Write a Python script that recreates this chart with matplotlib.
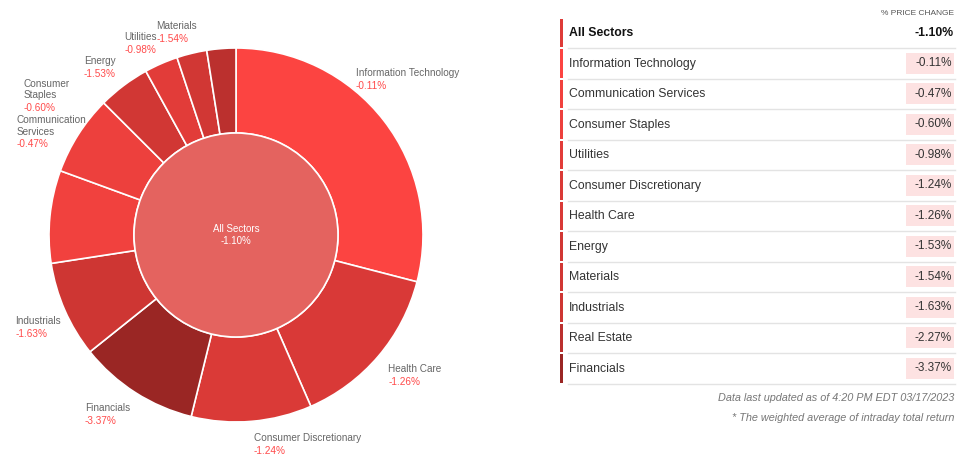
import numpy as np
import matplotlib
matplotlib.use("Agg")
import matplotlib.pyplot as plt
from matplotlib.colors import LinearSegmentedColormap, Normalize
from matplotlib.patches import Rectangle
from matplotlib.offsetbox import TextArea, VPacker, AnnotationBbox

plt.rcParams['font.family'] = ['Liberation Sans', 'DejaVu Sans']

# ring order (clockwise from 12 o'clock) and approximate index weights (%)
ring_sectors = ['Information Technology', 'Health Care', 'Consumer Discretionary',
                'Financials', 'Industrials', 'Communication Services',
                'Consumer Staples', 'Energy', 'Utilities', 'Materials', 'Real Estate']
ring_weights = [29.0, 14.4, 10.4, 10.4, 8.3, 8.0, 6.9, 4.5, 2.9, 2.6, 2.5]

# table order
table_sectors = ['Information Technology', 'Communication Services', 'Consumer Staples',
                 'Utilities', 'Consumer Discretionary', 'Health Care', 'Energy',
                 'Materials', 'Industrials', 'Real Estate', 'Financials']
table_changes = [-0.11, -0.47, -0.60, -0.98, -1.24, -1.26, -1.53, -1.54, -1.63, -2.27, -3.37]

all_name = 'All Sectors'
all_change = -1.10

ring_labels = {
    'Information Technology': 'Information Technology',
    'Health Care': 'Health Care',
    'Consumer Discretionary': 'Consumer Discretionary',
    'Financials': 'Financials',
    'Industrials': 'Industrials',
    'Communication Services': 'Communication\nServices',
    'Consumer Staples': 'Consumer\nStaples',
    'Energy': 'Energy',
    'Utilities': 'Utilities',
    'Materials': 'Materials',
}
# nudges for label blocks (pixels, x right / y up)
label_nudge = {
    'Information Technology': (-1, 22),
    'Health Care': (13, 1),
    'Consumer Discretionary': (53, 8),
    'Financials': (-11, 4),
    'Industrials': (2, -5),
    'Communication Services': (32, 81),
    'Consumer Staples': (-6, 22),
    'Energy': (-5, -7),
    'Utilities': (-8, -8),
    'Materials': (-8, -9),
}

W, H = 966, 469
cx, cy = 236, H - 235
R_OUT, R_IN = 187, 102

change_of = dict(zip(table_sectors, table_changes))
cmap = LinearSegmentedColormap.from_list('reds', ['#9a2624', '#fc4441'])
norm = Normalize(vmin=-3.37, vmax=-0.11)


def col(v):
    return cmap(norm(v))


def ty(y):
    return H - y


fig = plt.figure(figsize=(W / 100, H / 100), dpi=100)
ax = fig.add_axes([0, 0, 1, 1])

ring_colors = [col(change_of[s]) for s in ring_sectors]
ax.pie(ring_weights, colors=ring_colors, startangle=90, counterclock=False,
       radius=R_OUT, center=(cx, cy),
       wedgeprops=dict(width=R_OUT - R_IN, edgecolor='white', linewidth=1.2))
ax.pie([1], colors=['#e4635f'], radius=R_IN, center=(cx, cy),
       wedgeprops=dict(edgecolor='white', linewidth=1.2))

ax.text(cx, cy + 6, all_name, color='white', fontsize=7, ha='center', va='center')
ax.text(cx, cy - 6, '%.2f%%' % all_change, color='white', fontsize=7, ha='center', va='center')

# outer labels
cum = np.cumsum([0] + ring_weights)
total = cum[-1]
for i, s in enumerate(ring_sectors):
    if s not in ring_labels:
        continue
    mid = np.deg2rad((cum[i] + cum[i + 1]) / 2 / total * 360)
    dx, dy = label_nudge.get(s, (0, 0))
    px = cx + 218 * np.sin(mid) + dx
    py = cy + 218 * np.cos(mid) + dy
    box = VPacker(children=[
        TextArea(ring_labels[s], textprops=dict(color='#666666', fontsize=7.2, linespacing=1.15)),
        TextArea('%.2f%%' % change_of[s], textprops=dict(color='#ff4b4b', fontsize=7.2)),
    ], align='left', pad=0, sep=2)
    ax.add_artist(AnnotationBbox(box, (px, py), frameon=False, pad=0,
                                 box_alignment=(0.5, 0.5), annotation_clip=False))

# table
row_h = 30.5
top = 17.5
ax.text(954, ty(13), '% PRICE CHANGE', fontsize=6, color='#555555', ha='right', va='center')
rows = [(all_name, all_change)] + list(zip(table_sectors, table_changes))
for i, (name, v) in enumerate(rows):
    y0 = top + i * row_h
    y1 = y0 + row_h
    yc = y0 + row_h / 2
    ax.add_patch(Rectangle((560, ty(y1 - 1)), 2.5, row_h - 2, color=col(v), lw=0))
    ax.plot([568, 955], [ty(y1), ty(y1)], color='#e3e3e3', lw=1)
    if i == 0:
        ax.text(569, ty(yc + 0.5), name, fontsize=8.8, fontweight='bold', color='#111111', va='center')
        ax.text(954, ty(yc + 0.5), '%.2f%%' % v, fontsize=8.8, fontweight='bold', color='#111111',
                ha='right', va='center')
    else:
        ax.text(569, ty(yc + 0.5), name, fontsize=8.8, color='#333333', va='center')
        ax.add_patch(Rectangle((905.5, ty(yc + 10.5)), 48.5, 21, color='#fde2e2', lw=0))
        ax.text(952, ty(yc), '%.2f%%' % v, fontsize=8.5, color='#333333', ha='right', va='center')

ax.text(954, ty(398), 'Data last updated as of 4:20 PM EDT 03/17/2023', fontsize=7.8,
        style='italic', color='#777777', ha='right', va='center')
ax.text(954, ty(418), '* The weighted average of intraday total return', fontsize=7.8,
        style='italic', color='#777777', ha='right', va='center')

ax.set_xlim(0, W)
ax.set_ylim(0, H)
ax.set_aspect('auto')
ax.axis('off')

fig.savefig('out.png', dpi=100)
